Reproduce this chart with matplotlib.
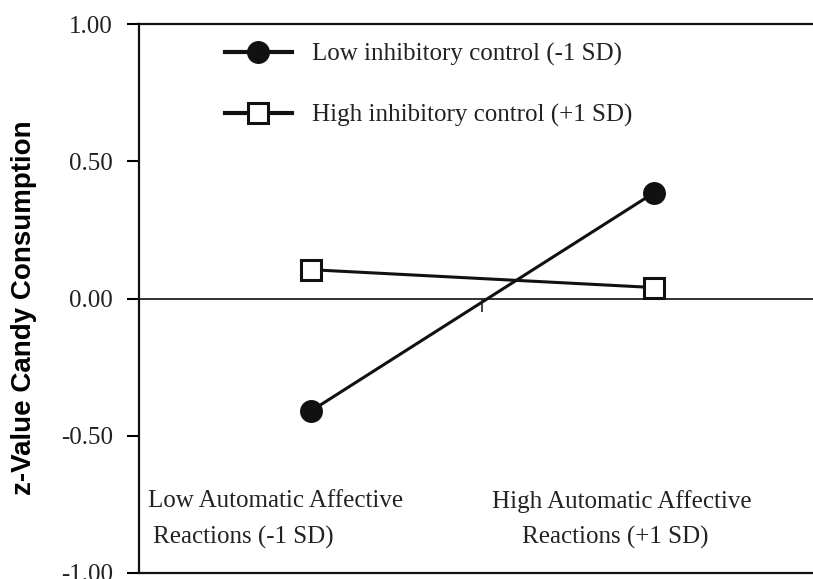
import matplotlib
matplotlib.use("Agg")
import matplotlib.pyplot as plt

# data
groups = [0, 1]  # low / high automatic affective reactions
low_ic = [-0.41, 0.385]
high_ic = [0.105, 0.04]
series_names = ["Low inhibitory control (-1 SD)", "High inhibitory control (+1 SD)"]
cat_line1 = ["Low Automatic Affective", "High Automatic Affective"]
cat_line2 = ["Reactions (-1 SD)", "Reactions (+1 SD)"]
yticks = [1.0, 0.5, 0.0, -0.5, -1.0]
ytick_labels = ["1.00", "0.50", "0.00", "-0.50", "-1.00"]

serif = "Liberation Serif"
ink = "#111111"
txt = "#222222"
fs = 18

fig = plt.figure(figsize=(8.13, 5.79), dpi=100)
ax = fig.add_axes([0.171, 0.0104, 0.829, 0.9481])

ax.plot(groups, low_ic, color=ink, lw=2.2, marker="o", ms=15.5,
        mfc=ink, mec=ink, label=series_names[0])
ax.plot(groups, high_ic, color=ink, lw=2.2, marker="s", ms=14.5,
        mfc="white", mec=ink, mew=2.2, label=series_names[1])

# zero line with a small tick between the groups
ax.axhline(0, color=txt, lw=1.3, zorder=1)
ax.plot([0.5], [0], marker=3, ms=9, color=txt, mew=1.2)

ax.set_xlim(-0.501, 1.464)
ax.set_ylim(-1.0, 1.0)
ax.set_yticks(yticks)
ax.set_yticklabels(ytick_labels, fontfamily=serif, fontsize=fs, color=txt)
ax.set_xticks([])
ax.tick_params(axis="y", direction="out", length=9, width=1.5, pad=10)

for s in ["left", "top", "bottom"]:
    ax.spines[s].set_linewidth(1.6)
    ax.spines[s].set_color(ink)
ax.spines["right"].set_visible(False)

ax.set_ylabel("z-Value Candy Consumption", fontfamily="Liberation Sans",
              fontweight="bold", fontsize=20)
ax.yaxis.set_label_coords(-0.152, 0.483)

# category labels inside the axes
ax.text(-0.102, -0.738, cat_line1[0], ha="center", va="center",
        fontfamily=serif, fontsize=fs, color=txt)
ax.text(-0.461, -0.87, cat_line2[0], ha="left", va="center",
        fontfamily=serif, fontsize=fs, color=txt)
ax.text(0.907, -0.738, cat_line1[1], ha="center", va="center",
        fontfamily=serif, fontsize=fs, color=txt)
ax.text(0.886, -0.87, cat_line2[1], ha="center", va="center",
        fontfamily=serif, fontsize=fs, color=txt)

leg = ax.legend(loc="upper left", bbox_to_anchor=(0.094, 1.006), frameon=False,
                handlelength=2.68, handletextpad=0.8, labelspacing=1.5,
                prop={"family": serif, "size": fs})
for t in leg.get_texts():
    t.set_color(txt)
for h in leg.legend_handles:
    h.set_linewidth(3.0)

fig.savefig("out.png", dpi=100)
